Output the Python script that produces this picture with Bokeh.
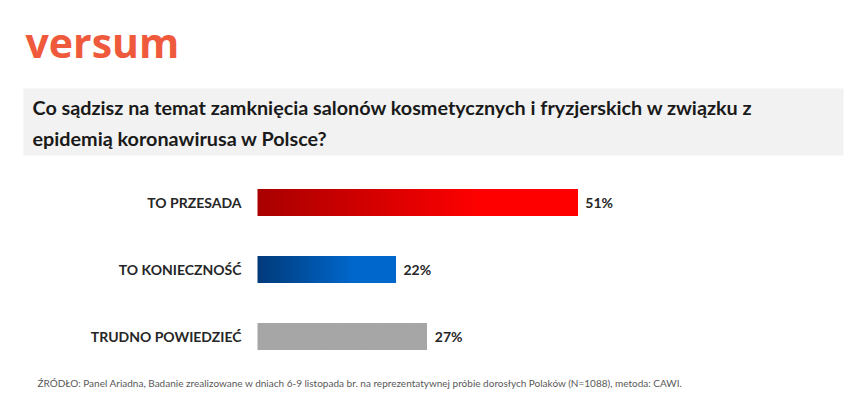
from bokeh.plotting import figure
from bokeh.models import Range1d
from bokeh.embed import file_html
from bokeh.resources import INLINE
from bokeh.core.properties import value

# ---- data ----
categories = ["TO PRZESADA", "TO KONIECZNOŚĆ", "TRUDNO POWIEDZIEĆ"]
values = [51, 22, 27]
value_labels = ["51%", "22%", "27%"]
start_colors = ["#a80000", "#003a7a", "#a6a6a6"]
end_colors = ["#ff0000", "#0068cc", "#a6a6a6"]
title_lines = [
    "Co sądzisz na temat zamknięcia salonów kosmetycznych i fryzjerskich w związku z",
    "epidemią koronawirusa w Polsce?",
]
source_note = ("ŹRÓDŁO: Panel Ariadna, Badanie zrealizowane w dniach 6-9 listopada br. na "
               "reprezentatywnej próbie dorosłych Polaków (N=1088), metoda: CAWI.")
brand = "versum"

# ---- layout ----
W, H = 852, 406
X0 = 257      # pixel position of 0 %
S = 6.27      # pixels per percent


def px(x):
    return (x - X0) / S


p = figure(width=W, height=H, x_range=Range1d(px(0), px(W)), y_range=Range1d(H, 0),
           output_backend="svg", toolbar_location=None, min_border=0,
           x_axis_location=None, y_axis_location=None)
p.grid.visible = False
p.outline_line_color = None
p.background_fill_color = "white"
p.border_fill_color = "white"

FONT = value("Lato")

# logo
p.text(x=[px(25)], y=[41], text=[brand], text_font=value("Open Sans"), text_font_style="bold",
       text_font_size="41px", text_color="#f05a3c", text_baseline="middle", text_align="left")

# title box
p.quad(left=[px(23)], right=[px(843)], top=[88], bottom=[155],
       fill_color="#f2f2f2", line_color=None)
p.text(x=[px(32)] * 2, y=[106, 137], text=title_lines, text_font=FONT,
       text_font_style="bold", text_font_size="19.8px", text_color="#1a1a1a",
       text_baseline="middle", text_align="left")


def hex2rgb(h):
    h = h.lstrip("#")
    return [int(h[i:i + 2], 16) for i in (0, 2, 4)]


def mix(a, b, t):
    ra, rb = hex2rgb(a), hex2rgb(b)
    return "#%02x%02x%02x" % tuple(int(round(x + (y - x) * t)) for x, y in zip(ra, rb))


N = 80
centers = [202 + 67 * i for i in range(len(values))]
BH = 27
for i, v in enumerate(values):
    lefts, rights, cols = [], [], []
    for k in range(N):
        lefts.append(v * k / N)
        rights.append(v)
        t = min(1.0, (k + 0.5) / N / 0.7)
        cols.append(mix(start_colors[i], end_colors[i], t))
    p.quad(left=lefts, right=rights, top=[centers[i] - BH / 2] * N,
           bottom=[centers[i] + BH / 2] * N, fill_color=cols, line_color=None)

p.text(x=[px(241)] * 3, y=centers, text=categories, text_font=FONT, text_font_style="bold",
       text_font_size="14px", text_color="#262626", text_baseline="middle", text_align="right")
p.text(x=[v + 8 / S for v in values], y=centers, text=value_labels, text_font=FONT,
       text_font_style="bold", text_font_size="14px", text_color="#262626",
       text_baseline="middle", text_align="left")

p.text(x=[px(37)], y=[382], text=[source_note], text_font=FONT, text_font_size="10px",
       text_color="#595959", text_baseline="middle", text_align="left")

open("out.html", "w").write(file_html(p, INLINE))
